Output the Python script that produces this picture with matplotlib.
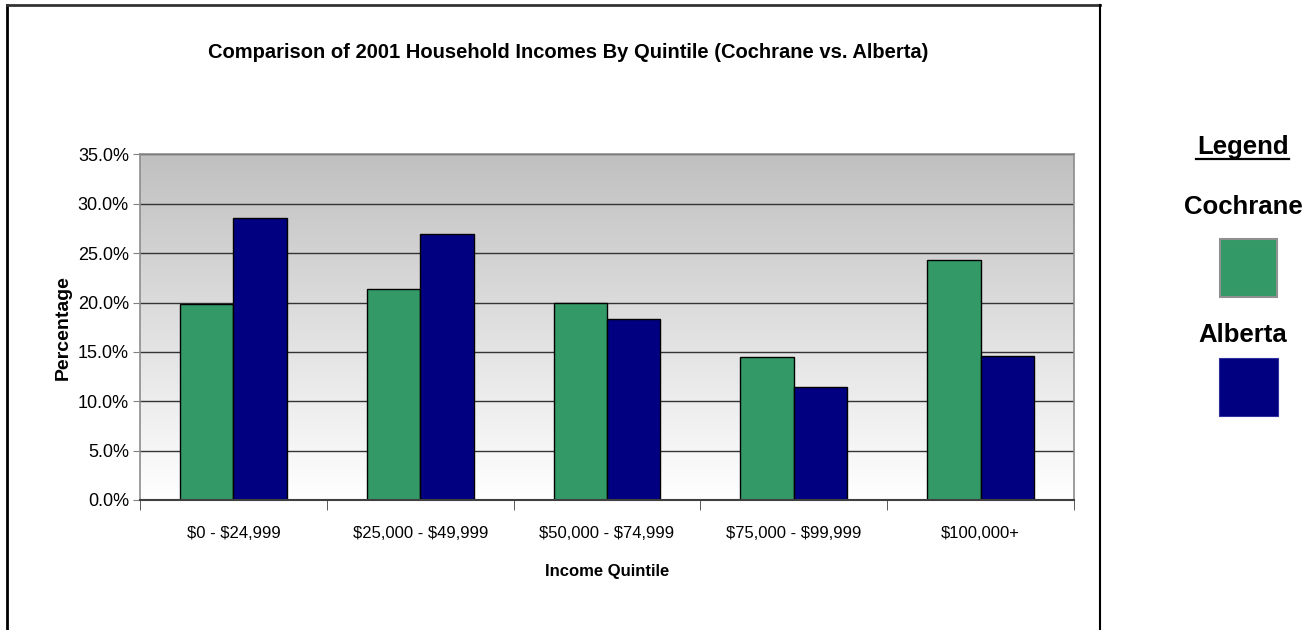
import numpy as np
import matplotlib
matplotlib.use("Agg")
import matplotlib.pyplot as plt
from matplotlib.lines import Line2D
from matplotlib.patches import Rectangle

# Household income distribution, 2001 (% of households)
categories = ["$0 - $24,999", "$25,000 - $49,999", "$50,000 - $74,999",
              "$75,000 - $99,999", "$100,000+"]
cochrane = [19.8, 21.4, 20.0, 14.5, 24.3]
alberta = [28.6, 26.9, 18.3, 11.4, 14.6]
y_ticks = [0, 5, 10, 15, 20, 25, 30, 35]

GREEN = "#339966"
NAVY = "#000080"
ARIAL = ["Liberation Sans", "DejaVu Sans"]

plt.rcParams["text.parse_math"] = False

W, H = 1315, 630
fig = plt.figure(figsize=(W / 100, H / 100), dpi=100)
fig.patch.set_facecolor("white")

ax = fig.add_axes([140 / W, 1 - 500 / H, (1074 - 140) / W, (500 - 154.4) / H])

n = len(categories)
x = np.arange(n)
bw = 1 / 3.5  # gap width 150%

ax.set_xlim(-0.5, n - 0.5)

# Vertical grey gradient behind the plot area: darker at the top
grad = np.linspace(192, 255, 256)[:, None] / 255.0
grad_rgb = np.dstack([grad, grad, grad])
ax.imshow(grad_rgb, extent=[-0.5, n - 0.5, 0, 35], origin="upper",
          aspect="auto", zorder=0, interpolation="bilinear")
ax.set_ylim(0, 35)

for t in y_ticks[1:]:
    ax.axhline(t, color="#333333", lw=1.0, zorder=1)

ax.bar(x - bw / 2, cochrane, width=bw, color=GREEN, edgecolor="black",
       linewidth=1.0, zorder=2)
ax.bar(x + bw / 2, alberta, width=bw, color=NAVY, edgecolor="black",
       linewidth=1.0, zorder=2)

ax.set_yticks(y_ticks)
ax.set_yticklabels([f"{v:.1f}%" for v in y_ticks], fontsize=13,
                   family=ARIAL)
ax.tick_params(axis="y", direction="out", length=5, color="#808080", pad=3)

ax.set_xticks(x)
ax.set_xticklabels(categories, fontsize=12, family=ARIAL)
ax.set_xticks(np.arange(n + 1) - 0.5, minor=True)
ax.tick_params(axis="x", which="major", length=0, pad=19)
ax.tick_params(axis="x", which="minor", direction="out", length=7,
               color="#404040")

for side in ("left", "top", "right"):
    ax.spines[side].set_color("#8c8c8c")
    ax.spines[side].set_linewidth(1.2)
ax.spines["bottom"].set_color("#404040")
ax.spines["bottom"].set_linewidth(1.5)

ax.set_ylabel("Percentage", fontsize=14, fontweight="bold", family=ARIAL,
              labelpad=4)
ax.set_xlabel("Income Quintile", fontsize=12, fontweight="bold",
              family=ARIAL, labelpad=16)

fig.text(568 / W, 1 - 53 / H,
         "Comparison of 2001 Household Incomes By Quintile (Cochrane vs. Alberta)",
         ha="center", va="center", fontsize=14.5, fontweight="bold",
         family=ARIAL)

# Chart border (open at the bottom)
fig.add_artist(Line2D([7 / W, 7 / W], [0, 1 - 5 / H], transform=fig.transFigure,
                      color="black", lw=2))
fig.add_artist(Line2D([7 / W, 1100 / W], [1 - 5 / H, 1 - 5 / H],
                      transform=fig.transFigure, color="#333333", lw=2))
fig.add_artist(Line2D([1100 / W, 1100 / W], [0, 1 - 5 / H],
                      transform=fig.transFigure, color="black", lw=1.5))

# Legend panel
lx = 1243
fig.text(lx / W, 1 - 147 / H, "Legend", ha="center", va="center",
         fontsize=18.5, fontweight="bold", family=ARIAL)
fig.add_artist(Line2D([1196 / W, 1289 / W], [1 - 159 / H, 1 - 159 / H],
                      transform=fig.transFigure, color="black", lw=1.6))
fig.text(lx / W, 1 - 207 / H, "Cochrane", ha="center", va="center",
         fontsize=18.5, fontweight="bold", family=ARIAL)
fig.add_artist(Rectangle((1220 / W, 1 - 297 / H), 57 / W, 58 / H,
                         transform=fig.transFigure, facecolor=GREEN,
                         edgecolor="#909090", lw=1.5))
fig.text(lx / W, 1 - 335 / H, "Alberta", ha="center", va="center",
         fontsize=18.5, fontweight="bold", family=ARIAL)
fig.add_artist(Rectangle((1219 / W, 1 - 416 / H), 59 / W, 58 / H,
                         transform=fig.transFigure, facecolor=NAVY,
                         edgecolor="#3030a0", lw=0.8))

fig.savefig("out.png", dpi=100, facecolor="white")
